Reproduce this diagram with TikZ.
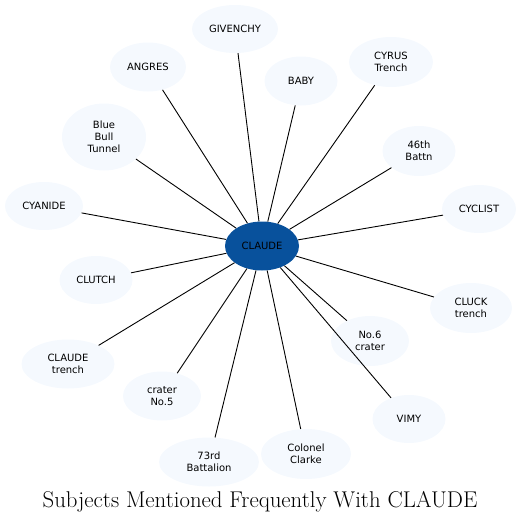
\documentclass[tikz,border=0pt]{standalone}
\usepackage{fontspec}
\setsansfont{DejaVu Sans}
\usetikzlibrary{shapes.geometric}
\definecolor{leaf}{HTML}{F5F9FE}
\definecolor{hub}{HTML}{08519C}
\tikzset{
  bub/.style={ellipse, fill=leaf, inner sep=0pt, align=center,
    font=\sffamily\fontsize{10}{12}\selectfont, text=black},
  hubnode/.style={ellipse, fill=hub, inner sep=0pt, align=center,
    font=\sffamily\fontsize{10}{12}\selectfont, text=black,
    minimum width=74pt, minimum height=49pt},
  link/.style={line width=0.9pt, black}
}
\begin{document}
\begin{tikzpicture}[x=1pt,y=-1pt]
\useasboundingbox (0,0) rectangle (522,523);
\node[hubnode] (c) at (262,246) {CLAUDE};
\node[bub, minimum width=86pt, minimum height=48pt] (givenchy) at (235,29) {GIVENCHY};
\node[bub, minimum width=76pt, minimum height=49pt] (angres) at (148,67) {ANGRES};
\node[bub, minimum width=84pt, minimum height=67pt] (bbt) at (104,137) {Blue\\Bull\\Tunnel};
\node[bub, minimum width=78pt, minimum height=48pt] (cyanide) at (44,206) {CYANIDE};
\node[bub, minimum width=73pt, minimum height=49pt] (baby) at (301,81) {BABY};
\node[bub, minimum width=84pt, minimum height=50pt] (cyrus) at (391,62) {CYRUS\\Trench};
\node[bub, minimum width=73pt, minimum height=50pt] (batt46) at (419,151) {46th\\Battn};
\node[bub, minimum width=74pt, minimum height=48pt] (cyclist) at (479,209) {CYCLIST};
\node[bub, minimum width=73pt, minimum height=48pt] (clutch) at (96,280) {CLUTCH};
\node[bub, minimum width=93pt, minimum height=49pt] (ctrench) at (68,364) {CLAUDE\\trench};
\node[bub, minimum width=78pt, minimum height=49pt] (crater5) at (162,396) {crater\\No.5};
\node[bub, minimum width=100pt, minimum height=49pt] (batt73) at (209,462) {73rd\\Battalion};
\node[bub, minimum width=90pt, minimum height=50pt] (clarke) at (306,454) {Colonel\\Clarke};
\node[bub, minimum width=78pt, minimum height=50pt] (crater6) at (370,341) {No.6\\crater};
\node[bub, minimum width=73pt, minimum height=48pt] (vimy) at (409,419) {VIMY};
\node[bub, minimum width=82pt, minimum height=50pt] (cluck) at (471,308) {CLUCK\\trench};
\foreach \n in {givenchy,angres,bbt,cyanide,baby,cyrus,batt46,cyclist,clutch,ctrench,crater5,batt73,clarke,crater6,vimy,cluck}
  \draw[link] (c) -- (\n);
\node[font=\fontsize{22.8}{27}\selectfont, anchor=base] (title) at (260,507.5) {Subjects Mentioned Frequently With CLAUDE};
\end{tikzpicture}
\end{document}
